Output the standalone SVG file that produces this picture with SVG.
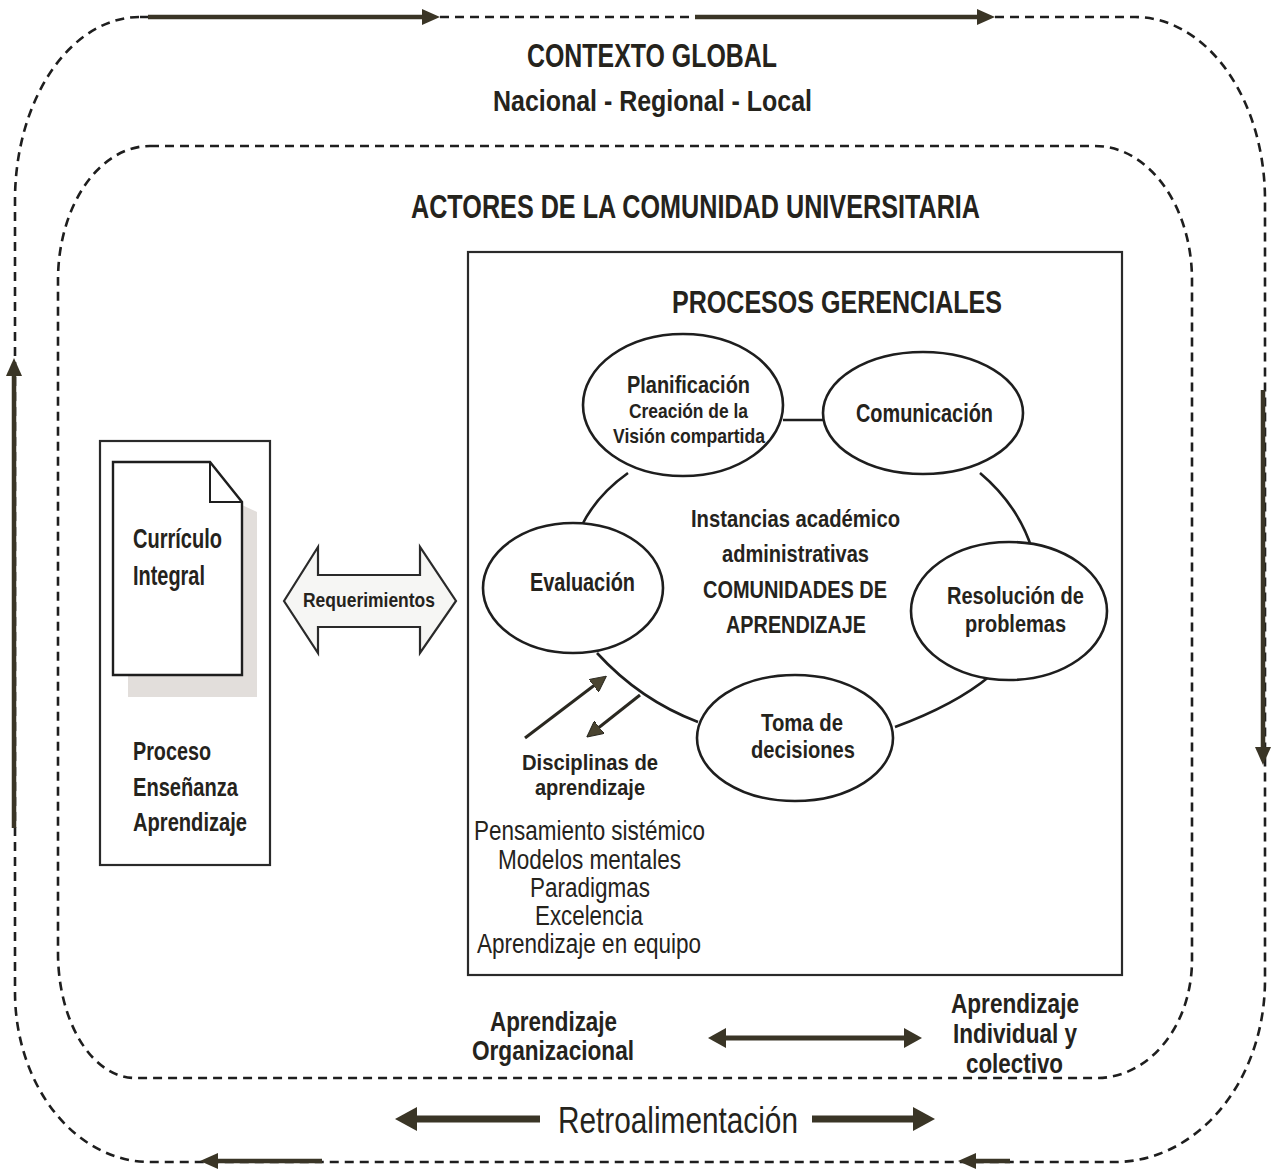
<svg xmlns="http://www.w3.org/2000/svg" width="1277" height="1171" viewBox="0 0 1277 1171">
<defs>
<style>
.t{font-family:"Liberation Sans",Arial,sans-serif;font-weight:bold;fill:#25231c;text-anchor:middle}
.tl{font-family:"Liberation Sans",Arial,sans-serif;font-weight:bold;fill:#25231c;text-anchor:start}
.r{font-family:"Liberation Sans",Arial,sans-serif;font-weight:normal;fill:#25231c;text-anchor:middle}
.dash{fill:none;stroke:#1e1e1e;stroke-width:2.6;stroke-dasharray:9 6}
.frameArrow{stroke:#3a3526;stroke-width:4.5;fill:none}
.ell{fill:#fff;stroke:#1e1e1e;stroke-width:2.6}
.link{fill:none;stroke:#1e1e1e;stroke-width:2.6}
.thin{stroke:#2a2820;stroke-width:3;fill:none}
.box{fill:#fff;stroke:#2a2a2a;stroke-width:2.2}
</style>
<marker id="ah" viewBox="0 0 18 16" refX="4" refY="8" markerWidth="18" markerHeight="16" markerUnits="userSpaceOnUse" orient="auto">
<path d="M0,0 L18,8 L0,16 Z" fill="#3a3526"/>
</marker>
<marker id="ahBig" viewBox="0 0 22 24" refX="4" refY="12" markerWidth="22" markerHeight="24" markerUnits="userSpaceOnUse" orient="auto">
<path d="M0,0 L22,12 L0,24 Z" fill="#3a3526"/>
</marker>
<marker id="ahMid" viewBox="0 0 18 20" refX="4" refY="10" markerWidth="18" markerHeight="20" markerUnits="userSpaceOnUse" orient="auto">
<path d="M0,0 L18,10 L0,20 Z" fill="#3a3526"/>
</marker>
<marker id="ahMidStart" viewBox="0 0 18 20" refX="14" refY="10" markerWidth="18" markerHeight="20" markerUnits="userSpaceOnUse" orient="auto">
<path d="M18,0 L0,10 L18,20 Z" fill="#3a3526"/>
</marker>
<marker id="ahSmall" viewBox="0 0 16 16" refX="3" refY="8" markerWidth="16" markerHeight="16" markerUnits="userSpaceOnUse" orient="auto">
<path d="M0,0 L16,8 L0,16 Z" fill="#4a4430" stroke="#2a2820" stroke-width="1"/>
</marker>
</defs>
<rect width="1277" height="1171" fill="#ffffff"/>

<g id="contexto-global">
<path class="dash" d="M140,17 H1135 A130,183 0 0 1 1265,200 V980 A150,182 0 0 1 1115,1162 H150 A135,170 0 0 1 15,992 V200 A125,183 0 0 1 140,17 Z"/>
<text class="t" x="652" y="67" font-size="34" textLength="250" lengthAdjust="spacingAndGlyphs">CONTEXTO GLOBAL</text>
<text class="t" x="652.5" y="111" font-size="30" textLength="319" lengthAdjust="spacingAndGlyphs">Nacional - Regional - Local</text>
</g>

<g id="actores">
<path class="dash" d="M150,146 H1095 A97,134 0 0 1 1192,280 V960 A95,118 0 0 1 1097,1078 H135 A77,125 0 0 1 58,953 V280 A92,134 0 0 1 150,146 Z"/>
<text class="t" x="695.5" y="218" font-size="33" textLength="569" lengthAdjust="spacingAndGlyphs">ACTORES DE LA COMUNIDAD UNIVERSITARIA</text>
</g>

<g id="curriculo">
<rect class="box" x="100" y="441" width="170" height="424"/>
<path d="M128,505 L242,505 L257,512 L257,697 L128,697 Z" fill="#e2dedb"/>
<path d="M113,462 L210,462 L242,502 L242,675 L113,675 Z" fill="#fff" stroke="#1e1e1e" stroke-width="2.4"/>
<path d="M210,462 L210,502 L242,502" fill="none" stroke="#1e1e1e" stroke-width="2"/>
<text class="tl" x="133" y="548" font-size="27" textLength="89" lengthAdjust="spacingAndGlyphs">Currículo</text>
<text class="tl" x="133" y="585" font-size="27" textLength="72" lengthAdjust="spacingAndGlyphs">Integral</text>
<text class="tl" x="133" y="760" font-size="25" textLength="78" lengthAdjust="spacingAndGlyphs">Proceso</text>
<text class="tl" x="133" y="796" font-size="25" textLength="105" lengthAdjust="spacingAndGlyphs">Enseñanza</text>
<text class="tl" x="133" y="831" font-size="25" textLength="114" lengthAdjust="spacingAndGlyphs">Aprendizaje</text>
</g>

<g id="requerimientos">
<path d="M284,601 L318,547 L318,575 L420,575 L420,547 L456,601 L420,653 L420,627 L318,627 L318,653 Z" fill="#f6f6f4" stroke="#2a2a2a" stroke-width="2.2"/>
<text class="t" x="369" y="607" font-size="20" textLength="132" lengthAdjust="spacingAndGlyphs">Requerimientos</text>
</g>

<g id="procesos-gerenciales">
<rect class="box" x="468" y="252" width="654" height="723"/>
<text class="t" x="837" y="313" font-size="32" textLength="330" lengthAdjust="spacingAndGlyphs">PROCESOS GERENCIALES</text>
</g>

<g id="connectors">
<line class="link" x1="783" y1="420" x2="823" y2="420"/>
<path class="link" d="M628,473 Q597,495 582,525"/>
<path class="link" d="M980,473 Q1018,505 1032,549"/>
<path class="link" d="M597,653 Q640,700 698,722"/>
<path class="link" d="M895,727 Q955,705 990,676"/>
<line class="thin" x1="525" y1="738" x2="596" y2="684" marker-end="url(#ahSmall)"/>
<line class="thin" x1="640" y1="695" x2="597" y2="729" marker-end="url(#ahSmall)"/>
<line class="frameArrow" x1="148" y1="17" x2="426" y2="17" marker-end="url(#ah)"/>
<line class="frameArrow" x1="695" y1="17" x2="981" y2="17" marker-end="url(#ah)"/>
<line class="frameArrow" x1="14" y1="828" x2="14" y2="372" marker-end="url(#ah)"/>
<line class="frameArrow" x1="1263" y1="390" x2="1263" y2="751" marker-end="url(#ah)"/>
<line class="frameArrow" x1="322" y1="1161" x2="214" y2="1161" marker-end="url(#ah)"/>
<line class="frameArrow" x1="1010" y1="1161" x2="972" y2="1161" marker-end="url(#ah)"/>
<line stroke="#3a3526" stroke-width="7" x1="540" y1="1119" x2="413" y2="1119" marker-end="url(#ahBig)"/>
<line stroke="#3a3526" stroke-width="7" x1="812" y1="1119" x2="917" y2="1119" marker-end="url(#ahBig)"/>
<line stroke="#3a3526" stroke-width="5" x1="722" y1="1038" x2="908" y2="1038" marker-start="url(#ahMidStart)" marker-end="url(#ahMid)"/>
</g>

<g id="planificacion">
<ellipse class="ell" cx="683" cy="405" rx="100" ry="71"/>
<text class="t" x="688.5" y="393" font-size="24" textLength="123" lengthAdjust="spacingAndGlyphs">Planificación</text>
<text class="t" x="688.5" y="418" font-size="21" textLength="119" lengthAdjust="spacingAndGlyphs">Creación de la</text>
<text class="t" x="689" y="443" font-size="21" textLength="152" lengthAdjust="spacingAndGlyphs">Visión compartida</text>
</g>

<g id="comunicacion">
<ellipse class="ell" cx="923" cy="413" rx="100" ry="61"/>
<text class="t" x="924.5" y="422" font-size="25" textLength="137" lengthAdjust="spacingAndGlyphs">Comunicación</text>
</g>

<g id="evaluacion">
<ellipse class="ell" cx="573" cy="588" rx="90" ry="65"/>
<text class="t" x="582.5" y="591" font-size="25" textLength="105" lengthAdjust="spacingAndGlyphs">Evaluación</text>
</g>

<g id="instancias">
<text class="t" x="795.5" y="527" font-size="24" textLength="209" lengthAdjust="spacingAndGlyphs">Instancias académico</text>
<text class="t" x="795.5" y="562" font-size="24" textLength="147" lengthAdjust="spacingAndGlyphs">administrativas</text>
<text class="t" x="795" y="598" font-size="24" textLength="184" lengthAdjust="spacingAndGlyphs">COMUNIDADES DE</text>
<text class="t" x="796" y="633" font-size="24" textLength="140" lengthAdjust="spacingAndGlyphs">APRENDIZAJE</text>
</g>

<g id="resolucion">
<ellipse class="ell" cx="1009" cy="611" rx="98" ry="69"/>
<text class="t" x="1015.5" y="604" font-size="23" textLength="137" lengthAdjust="spacingAndGlyphs">Resolución de</text>
<text class="t" x="1015.5" y="632" font-size="23" textLength="101" lengthAdjust="spacingAndGlyphs">problemas</text>
</g>

<g id="toma-decisiones">
<ellipse class="ell" cx="795" cy="738" rx="98" ry="63"/>
<text class="t" x="802" y="731" font-size="24" textLength="82" lengthAdjust="spacingAndGlyphs">Toma de</text>
<text class="t" x="803" y="758" font-size="24" textLength="104" lengthAdjust="spacingAndGlyphs">decisiones</text>
</g>

<g id="disciplinas">
<text class="t" x="590" y="770" font-size="22" textLength="136" lengthAdjust="spacingAndGlyphs">Disciplinas de</text>
<text class="t" x="590" y="795" font-size="22" textLength="110" lengthAdjust="spacingAndGlyphs">aprendizaje</text>
<text class="r" x="589.5" y="840" font-size="27" textLength="231" lengthAdjust="spacingAndGlyphs">Pensamiento sistémico</text>
<text class="r" x="589.5" y="869" font-size="27" textLength="183" lengthAdjust="spacingAndGlyphs">Modelos mentales</text>
<text class="r" x="590" y="897" font-size="27" textLength="120" lengthAdjust="spacingAndGlyphs">Paradigmas</text>
<text class="r" x="589" y="925" font-size="27" textLength="108" lengthAdjust="spacingAndGlyphs">Excelencia</text>
<text class="r" x="589" y="953" font-size="27" textLength="224" lengthAdjust="spacingAndGlyphs">Aprendizaje en equipo</text>
</g>

<g id="aprendizaje-organizacional">
<text class="t" x="553.5" y="1031" font-size="27" textLength="127" lengthAdjust="spacingAndGlyphs">Aprendizaje</text>
<text class="t" x="553" y="1060" font-size="27" textLength="162" lengthAdjust="spacingAndGlyphs">Organizacional</text>
</g>

<g id="aprendizaje-individual">
<text class="t" x="1015" y="1013" font-size="27" textLength="128" lengthAdjust="spacingAndGlyphs">Aprendizaje</text>
<text class="t" x="1015" y="1043" font-size="27" textLength="124" lengthAdjust="spacingAndGlyphs">Individual y</text>
<text class="t" x="1014.5" y="1073" font-size="27" textLength="97" lengthAdjust="spacingAndGlyphs">colectivo</text>
</g>

<g id="retroalimentacion">
<text class="r" x="678" y="1133" font-size="36" textLength="240" lengthAdjust="spacingAndGlyphs">Retroalimentación</text>
</g>
</svg>
